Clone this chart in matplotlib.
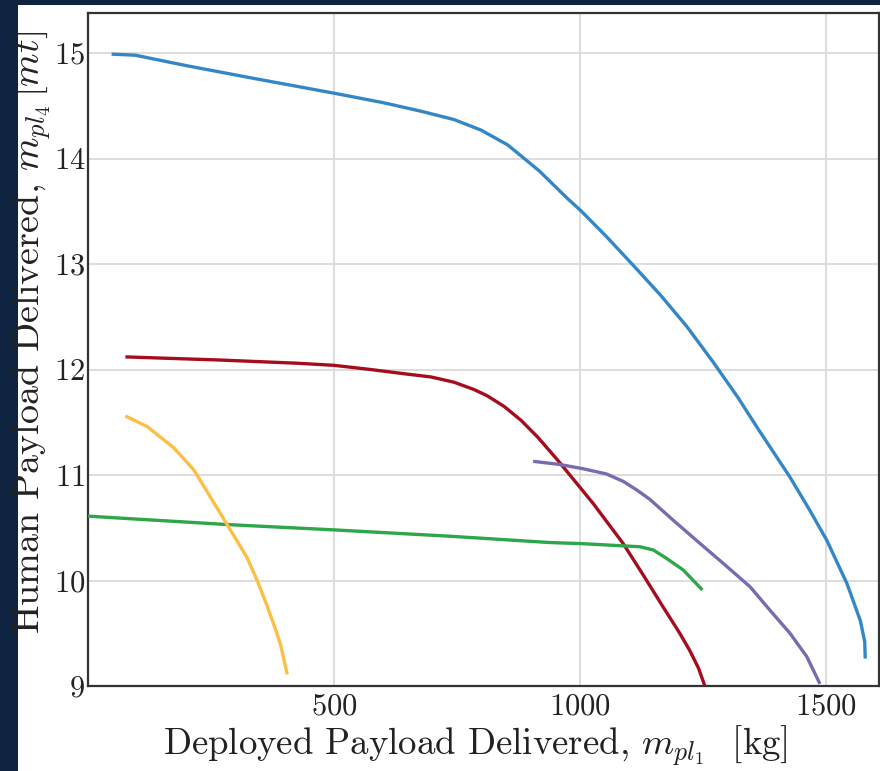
import matplotlib
matplotlib.use("Agg")
import matplotlib.pyplot as plt
from matplotlib.patches import Rectangle

plt.rcParams['font.family'] = ['cmr10', 'DejaVu Serif']
plt.rcParams['mathtext.fontset'] = 'cm'
plt.rcParams['axes.formatter.use_mathtext'] = True

# ---- data ----
blue_x = [48, 96, 201, 337, 500, 600, 676, 744, 799, 853, 887, 918, 975, 1001, 1054, 1108, 1163, 1217,
          1271, 1322, 1359, 1427, 1468, 1502, 1543, 1570, 1579, 1580]
blue_y = [14.99, 14.98, 14.88, 14.76, 14.62, 14.53, 14.45, 14.37, 14.27, 14.13, 14.0, 13.88, 13.62, 13.51,
          13.26, 12.99, 12.71, 12.41, 12.07, 11.73, 11.46, 10.98, 10.66, 10.38, 9.97, 9.62, 9.42, 9.26]

red_x = [76, 269, 425, 500, 575, 643, 697, 744, 785, 812, 846, 880, 914, 955, 1027, 1088, 1129,
         1169, 1203, 1224, 1241, 1254]
red_y = [12.12, 12.09, 12.06, 12.04, 12.00, 11.96, 11.93, 11.88, 11.81, 11.75, 11.65, 11.52, 11.36,
         11.14, 10.73, 10.35, 10.05, 9.75, 9.50, 9.33, 9.17, 9.0]

purple_x = [905, 959, 1006, 1054, 1088, 1115, 1142, 1190, 1237, 1292, 1346, 1386, 1427, 1461, 1488]
purple_y = [11.13, 11.10, 11.06, 11.01, 10.94, 10.86, 10.77, 10.57, 10.38, 10.16, 9.94, 9.72, 9.50,
            9.28, 9.02]

green_x = [0, 285, 500, 735, 939, 1002, 1122, 1149, 1176, 1210, 1249]
green_y = [10.61, 10.53, 10.48, 10.42, 10.36, 10.35, 10.32, 10.29, 10.21, 10.10, 9.91]

yellow_x = [76, 120, 174, 215, 249, 283, 323, 344, 364, 381, 391, 405]
yellow_y = [11.56, 11.46, 11.26, 11.05, 10.79, 10.53, 10.22, 10.0, 9.76, 9.54, 9.40, 9.11]

x_ticks = [500, 1000, 1500]
y_ticks = [9, 10, 11, 12, 13, 14, 15]

series = [
    (blue_x, blue_y, '#3487c6'),
    (red_x, red_y, '#a50d1e'),
    (purple_x, purple_y, '#7a6bb0'),
    (green_x, green_y, '#2ea64a'),
    (yellow_x, yellow_y, '#fcbf45'),
]

fig = plt.figure(figsize=(8.8, 7.71), dpi=100, facecolor='#0e2440')
fig.patches.append(Rectangle((18 / 880, 0), 1 - 18 / 880, 1 - 5 / 771,
                             transform=fig.transFigure, facecolor='white',
                             edgecolor='none', zorder=-10))

ax = fig.add_axes([88 / 880, 1 - 686 / 771, (879 - 88) / 880, (686 - 13) / 771])
ax.set_zorder(1)
ax.set_facecolor('white')

for xs, ys, c in series:
    ax.plot(xs, ys, color=c, lw=2.4, solid_capstyle='butt', solid_joinstyle='round', zorder=3)

ax.set_xlim(0, 1608)
ax.set_ylim(9, 15.38)
ax.set_xticks(x_ticks)
ax.set_yticks(y_ticks)
ax.grid(True, color='#dadada', lw=1.3, zorder=0)
ax.set_axisbelow(True)
ax.tick_params(length=0, labelsize=22, colors='#222222')
ax.tick_params(axis='y', pad=2)
ax.tick_params(axis='x', pad=5)
for s in ax.spines.values():
    s.set_color('#333333')
    s.set_linewidth(1.6)

ax.set_xlabel(r'Deployed Payload Delivered, $m_{pl_1}$  [kg]', fontsize=26.5, color='#222222')
ax.set_ylabel(r'Human Payload Delivered, $m_{pl_4}\,[mt]$', fontsize=27.5, color='#222222')
ax.xaxis.set_label_coords((475 - 88) / (879 - 88), -(724 - 686) / (686 - 13))
ax.yaxis.set_label_coords(-(88 - 53) / (879 - 88), (686 - 332) / (686 - 13))

fig.savefig('out.png', dpi=100, facecolor=fig.get_facecolor())
